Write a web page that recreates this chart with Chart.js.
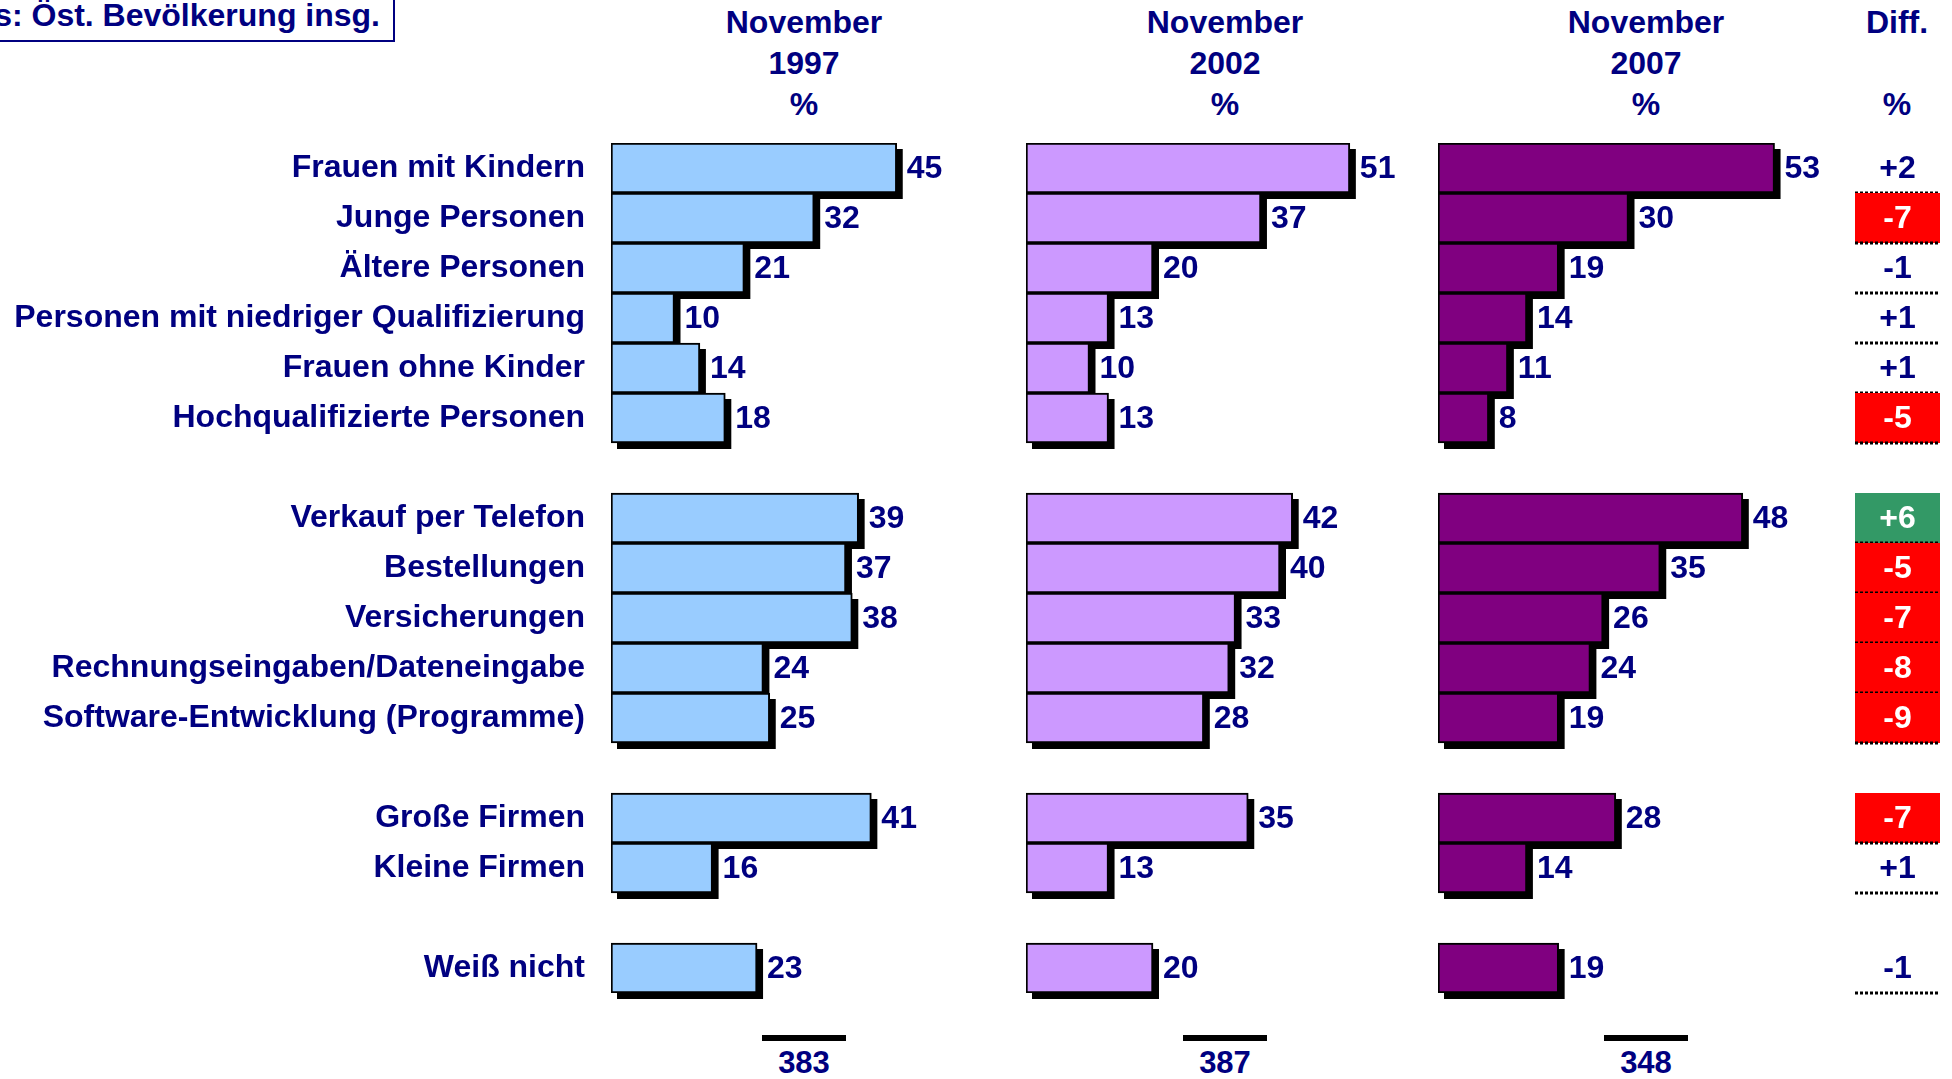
<!DOCTYPE html>
<html>
<head>
<meta charset="utf-8">
<script src="https://cdn.jsdelivr.net/npm/chart.js@4.4.1/dist/chart.umd.min.js"></script>
<style>
  body { margin: 0; background: #fff; width: 1952px; height: 1079px; overflow: hidden; position: relative;
         font-family: "Liberation Sans", Arial, sans-serif; color: #000080; }
  canvas { position: absolute; }
  .head { position: absolute; top: 2px; width: 240px; margin-left: -120px; text-align: center;
          font-weight: bold; font-size: 32px; line-height: 41px; white-space: pre; }
  .nline { position: absolute; top: 1035px; width: 84px; margin-left: -42px; height: 6px; background: #000; }
  .nval { position: absolute; top: 1045px; width: 120px; margin-left: -60px; text-align: center;
          font-weight: bold; font-size: 31px; line-height: 36px; }
  #basis { position: absolute; left: -120px; top: -10px; width: 515px; height: 52px; border: 2px solid #000080;
           text-align: right; font-weight: bold; font-size: 32px; line-height: 36px; padding: 5px 13px 0 0;
           box-sizing: border-box; }
</style>
</head>
<body>
<div id="basis">Basis: Öst. Bevölkerung insg.</div>
<canvas id="c1" width="1000" height="870" style="left:0;top:133px"></canvas>
<canvas id="c2" width="410" height="870" style="left:1016px;top:133px"></canvas>
<canvas id="c3" width="524" height="870" style="left:1428px;top:133px"></canvas>
<script>
const categories = [
  "Frauen mit Kindern", "Junge Personen", "Ältere Personen",
  "Personen mit niedriger Qualifizierung", "Frauen ohne Kinder", "Hochqualifizierte Personen", "",
  "Verkauf per Telefon", "Bestellungen", "Versicherungen",
  "Rechnungseingaben/Dateneingabe", "Software-Entwicklung (Programme)", "",
  "Große Firmen", "Kleine Firmen", "",
  "Weiß nicht"
];
const values1997 = [45, 32, 21, 10, 14, 18, null, 39, 37, 38, 24, 25, null, 41, 16, null, 23];
const values2002 = [51, 37, 20, 13, 10, 13, null, 42, 40, 33, 32, 28, null, 35, 13, null, 20];
const values2007 = [53, 30, 19, 14, 11, 8, null, 48, 35, 26, 24, 19, null, 28, 14, null, 19];
const diffs = ["+2", "-7", "-1", "+1", "+1", "-5", null, "+6", "-5", "-7", "-8", "-9", null, "-7", "+1", null, "-1"];
const headers = ["November\n1997\n%", "November\n2002\n%", "November\n2007\n%", "Diff.\n\n%"];
const baseN = ["383", "387", "348"];

const NAVY = "#000080";
const FONT = "bold 32px 'Liberation Sans', Arial, sans-serif";
Chart.defaults.font.family = "'Liberation Sans', Arial, sans-serif";

// header text and base counts
const headX = [804, 1225, 1646, 1897];
headers.forEach((h, i) => {
  const d = document.createElement("div");
  d.className = "head";
  d.style.left = headX[i] + "px";
  d.textContent = h;
  document.body.appendChild(d);
});
baseN.forEach((n, i) => {
  const l = document.createElement("div");
  l.className = "nline";
  l.style.left = headX[i] + "px";
  document.body.appendChild(l);
  const t = document.createElement("div");
  t.className = "nval";
  t.style.left = headX[i] + "px";
  t.textContent = n;
  document.body.appendChild(t);
});

// black drop shadow behind each bar
const shadowPlugin = {
  id: "shadow",
  beforeDatasetsDraw(chart) {
    const ctx = chart.ctx;
    ctx.save();
    ctx.fillStyle = "#000";
    chart.getDatasetMeta(0).data.forEach((bar) => {
      if (bar.skip || isNaN(bar.x)) return;
      const left = Math.min(bar.x, bar.base);
      const w = Math.abs(bar.x - bar.base);
      ctx.fillRect(left + 6, bar.y - bar.height / 2 + 6, w, bar.height);
    });
    ctx.restore();
  },
};

// value labels right of the bars
const valuePlugin = {
  id: "values",
  afterDatasetsDraw(chart) {
    const ctx = chart.ctx;
    const data = chart.data.datasets[0].data;
    ctx.save();
    ctx.font = FONT;
    ctx.fillStyle = NAVY;
    ctx.textAlign = "left";
    ctx.textBaseline = "middle";
    chart.getDatasetMeta(0).data.forEach((bar, i) => {
      if (data[i] == null) return;
      ctx.fillText(String(data[i]), bar.x + 10, bar.y + 1);
    });
    ctx.restore();
  },
};

// difference column beside the last panel
const diffPlugin = {
  id: "diffs",
  afterDatasetsDraw(chart) {
    const ctx = chart.ctx;
    const y = chart.scales.y;
    const slot = chart.chartArea.height / categories.length;
    const x0 = chart.chartArea.right + 36;
    const w = 85;
    ctx.save();
    diffs.forEach((d, i) => {
      if (d == null) return;
      const cy = y.getPixelForValue(i);
      const top = cy - slot / 2;
      const v = parseInt(d, 10);
      let bg = null;
      if (v <= -5) bg = "#ff0000";
      if (v >= 5) bg = "#339966";
      if (bg) {
        ctx.fillStyle = bg;
        ctx.fillRect(x0, top, w, slot);
      }
      ctx.font = FONT;
      ctx.fillStyle = bg ? "#ffffff" : NAVY;
      ctx.textAlign = "center";
      ctx.textBaseline = "middle";
      ctx.fillText(d, x0 + w / 2, cy + 1);
      ctx.strokeStyle = "#000";
      ctx.lineWidth = 3;
      ctx.setLineDash([3, 2]);
      ctx.beginPath();
      ctx.moveTo(x0, top + slot);
      ctx.lineTo(x0 + w, top + slot);
      ctx.stroke();
    });
    ctx.restore();
  },
};

function makePanel(id, values, color, showLabels, padding, extra) {
  new Chart(document.getElementById(id), {
    type: "bar",
    data: {
      labels: categories,
      datasets: [
        {
          data: values,
          backgroundColor: color,
          borderColor: "#000",
          borderWidth: 2,
          borderSkipped: false,
          categoryPercentage: 1,
          barPercentage: 1,
        },
      ],
    },
    options: {
      indexAxis: "y",
      responsive: false,
      animation: false,
      layout: { padding: padding },
      plugins: { legend: { display: false }, tooltip: { enabled: false } },
      scales: {
        x: { display: false, min: 0, max: 60 },
        y: {
          display: showLabels,
          grid: { display: false, drawTicks: false },
          border: { display: false },
          ticks: {
            autoSkip: false,
            padding: 26,
            color: NAVY,
            font: { size: 32, weight: "bold" },
          },
          afterFit: (scale) => {
            if (!showLabels) return;
            scale.width = 611;
            scale.paddingTop = 0; // keep label overhang from shrinking the bar area
            scale.paddingBottom = 0;
          },
        },
      },
    },
    plugins: [shadowPlugin, valuePlugin].concat(extra || []),
  });
}

makePanel("c1", values1997, "#99ccff", true, { top: 10, bottom: 10, right: 8 });
makePanel("c2", values2002, "#cc99ff", false, { top: 10, bottom: 10, left: 10, right: 19 });
makePanel("c3", values2007, "#800080", false, { top: 10, bottom: 10, left: 10, right: 133 }, [diffPlugin]);
</script>
</body>
</html>
